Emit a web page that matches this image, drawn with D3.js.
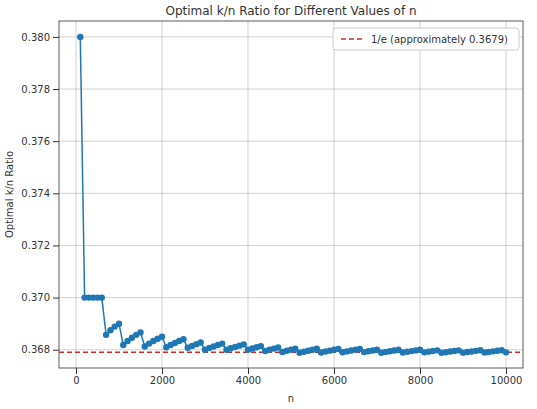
<!DOCTYPE html>
<html><head><meta charset="utf-8">
<script src="https://cdn.jsdelivr.net/npm/d3@7"></script>
<style>body{margin:0;background:#fff}text{font-family:"DejaVu Sans",sans-serif;fill:#333}</style>
</head><body><svg id="c" width="537" height="409"></svg>
<script>
// n values (steps of 100) and the optimal k read for each
const nValues = [100,200,300,400,500,600,700,800,900,1000,1100,1200,1300,1400,1500,1600,1700,1800,1900,2000,
  2100,2200,2300,2400,2500,2600,2700,2800,2900,3000,3100,3200,3300,3400,3500,3600,3700,3800,3900,4000,
  4100,4200,4300,4400,4500,4600,4700,4800,4900,5000,5100,5200,5300,5400,5500,5600,5700,5800,5900,6000,
  6100,6200,6300,6400,6500,6600,6700,6800,6900,7000,7100,7200,7300,7400,7500,7600,7700,7800,7900,8000,
  8100,8200,8300,8400,8500,8600,8700,8800,8900,9000,9100,9200,9300,9400,9500,9600,9700,9800,9900,10000];
const optimalK = [38,74,111,148,185,222,258,295,332,369,405,442,479,516,553,589,626,663,700,737,
  773,810,847,884,921,957,994,1031,1068,1104,1141,1178,1215,1252,1288,1325,1362,1399,1436,1472,
  1509,1546,1583,1619,1656,1693,1730,1766,1803,1840,1877,1913,1950,1987,2024,2061,2097,2134,2171,2208,
  2245,2281,2318,2355,2392,2429,2465,2502,2539,2576,2612,2649,2686,2723,2760,2796,2833,2870,2907,2944,
  2980,3017,3054,3091,3127,3164,3201,3238,3275,3311,3348,3385,3422,3459,3495,3532,3569,3606,3643,3679];
const xTicks = [0,2000,4000,6000,8000,10000];
const yTicks = [0.368,0.370,0.372,0.374,0.376,0.378,0.380];
const invE = 0.3679;

const svg = d3.select('#c');
const L = 59, R = 523, T = 21, B = 368;
const x = d3.scaleLinear().domain([-395, 10395]).range([L, R]);
const y = d3.scaleLinear().domain([0.36730, 0.38061]).range([B, T]);
const data = nValues.map((n, i) => ({ n, r: optimalK[i] / n }));

// grid
svg.append('g').selectAll('line').data(xTicks).join('line')
  .attr('x1', d => x(d)).attr('x2', d => x(d)).attr('y1', T).attr('y2', B)
  .attr('stroke', '#b0b0b0').attr('stroke-width', 0.8).attr('opacity', 0.7);
svg.append('g').selectAll('line').data(yTicks).join('line')
  .attr('y1', d => y(d)).attr('y2', d => y(d)).attr('x1', L).attr('x2', R)
  .attr('stroke', '#b0b0b0').attr('stroke-width', 0.8).attr('opacity', 0.7);

// axes
const xa = svg.append('g').attr('transform', `translate(0,${B})`)
  .call(d3.axisBottom(x).tickValues(xTicks).tickFormat(d3.format('d')).tickSizeOuter(0));
const ya = svg.append('g').attr('transform', `translate(${L},0)`)
  .call(d3.axisLeft(y).tickValues(yTicks).tickFormat(d3.format('.3f')).tickSizeOuter(0));
[xa, ya].forEach(a => {
  a.select('.domain').remove();
  a.selectAll('text').style('font-size', '10px').style('fill', '#333');
  a.selectAll('line').attr('stroke', '#333');
});
svg.append('rect').attr('x', L).attr('y', T).attr('width', R - L).attr('height', B - T)
  .attr('fill', 'none').attr('stroke', '#333').attr('stroke-width', 0.8);

// 1/e line
svg.append('line').attr('x1', L).attr('x2', R).attr('y1', y(invE)).attr('y2', y(invE))
  .attr('stroke', '#d62728').attr('stroke-width', 1.5).attr('stroke-dasharray', '5,3');

// series
svg.append('path').datum(data)
  .attr('d', d3.line().x(d => x(d.n)).y(d => y(d.r)))
  .attr('fill', 'none').attr('stroke', '#1f77b4').attr('stroke-width', 1.5);
svg.append('g').selectAll('circle').data(data).join('circle')
  .attr('cx', d => x(d.n)).attr('cy', d => y(d.r)).attr('r', 3.2).attr('fill', '#1f77b4');

// legend
const lg = svg.append('g').attr('transform', 'translate(333,28)');
lg.append('rect').attr('width', 186).attr('height', 22).attr('rx', 3)
  .attr('fill', '#fff').attr('stroke', '#ccc');
lg.append('line').attr('x1', 8).attr('x2', 30).attr('y1', 11).attr('y2', 11)
  .attr('stroke', '#d62728').attr('stroke-width', 1.5).attr('stroke-dasharray', '5,3');
lg.append('text').attr('x', 38).attr('y', 15).style('font-size', '10px').text('1/e (approximately 0.3679)');

// titles
svg.append('text').attr('x', (L + R) / 2).attr('y', 15).attr('text-anchor', 'middle')
  .style('font-size', '12px').text('Optimal k/n Ratio for Different Values of n');
svg.append('text').attr('x', (L + R) / 2).attr('y', 402).attr('text-anchor', 'middle')
  .style('font-size', '10px').text('n');
svg.append('text').attr('transform', `translate(13,${(T + B) / 2}) rotate(-90)`)
  .attr('text-anchor', 'middle').style('font-size', '10px').text('Optimal k/n Ratio');
</script></body></html>
